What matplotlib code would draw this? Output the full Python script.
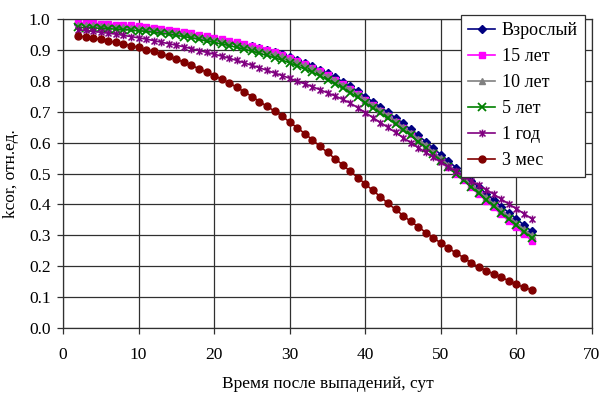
import matplotlib
matplotlib.use("Agg")
import matplotlib.pyplot as plt
from matplotlib.path import Path

days = list(range(2, 63))

adult = [0.984, 0.983, 0.982, 0.981, 0.980, 0.978, 0.977, 0.975, 0.973, 0.971,
         0.968, 0.965, 0.962, 0.958, 0.954, 0.950, 0.945, 0.940, 0.935, 0.931,
         0.927, 0.922, 0.917, 0.912, 0.906, 0.900, 0.893, 0.886, 0.878, 0.868,
         0.858, 0.848, 0.836, 0.824, 0.811, 0.797, 0.782, 0.766, 0.749, 0.732,
         0.715, 0.698, 0.680, 0.662, 0.643, 0.623, 0.603, 0.582, 0.561, 0.540,
         0.519, 0.498, 0.477, 0.456, 0.435, 0.414, 0.393, 0.373, 0.353, 0.333,
         0.313]

y15 = [0.988, 0.987, 0.986, 0.985, 0.984, 0.982, 0.981, 0.979, 0.977, 0.975,
       0.972, 0.969, 0.966, 0.962, 0.958, 0.954, 0.949, 0.944, 0.939, 0.934,
       0.930, 0.924, 0.919, 0.913, 0.906, 0.900, 0.892, 0.884, 0.875, 0.865,
       0.854, 0.843, 0.831, 0.818, 0.804, 0.790, 0.774, 0.757, 0.739, 0.721,
       0.703, 0.686, 0.667, 0.648, 0.628, 0.608, 0.587, 0.565, 0.543, 0.521,
       0.500, 0.478, 0.456, 0.434, 0.412, 0.390, 0.368, 0.347, 0.326, 0.305,
       0.283]

y10 = [0.981, 0.980, 0.979, 0.978, 0.977, 0.975, 0.974, 0.972, 0.970, 0.968,
       0.965, 0.962, 0.959, 0.955, 0.951, 0.947, 0.942, 0.937, 0.932, 0.928,
       0.923, 0.918, 0.912, 0.907, 0.900, 0.894, 0.886, 0.879, 0.870, 0.860,
       0.850, 0.840, 0.828, 0.816, 0.802, 0.788, 0.772, 0.756, 0.739, 0.722,
       0.705, 0.688, 0.669, 0.651, 0.632, 0.612, 0.592, 0.570, 0.549, 0.528,
       0.507, 0.486, 0.465, 0.444, 0.423, 0.402, 0.381, 0.361, 0.340, 0.320,
       0.300]

y5 = [0.973, 0.972, 0.971, 0.970, 0.969, 0.967, 0.966, 0.964, 0.962, 0.960,
      0.957, 0.954, 0.951, 0.947, 0.943, 0.939, 0.934, 0.929, 0.924, 0.919,
      0.914, 0.908, 0.902, 0.896, 0.889, 0.882, 0.874, 0.867, 0.858, 0.848,
      0.838, 0.828, 0.816, 0.804, 0.791, 0.777, 0.762, 0.746, 0.729, 0.712,
      0.695, 0.678, 0.660, 0.642, 0.623, 0.603, 0.583, 0.562, 0.541, 0.520,
      0.499, 0.478, 0.457, 0.436, 0.415, 0.394, 0.373, 0.352, 0.332, 0.312,
      0.292]

y1 = [0.965, 0.963, 0.960, 0.957, 0.954, 0.951, 0.947, 0.943, 0.939, 0.935,
      0.930, 0.925, 0.920, 0.915, 0.910, 0.904, 0.898, 0.892, 0.886, 0.880,
      0.873, 0.866, 0.858, 0.850, 0.842, 0.834, 0.825, 0.817, 0.808, 0.799,
      0.790, 0.781, 0.771, 0.761, 0.751, 0.740, 0.728, 0.713, 0.697, 0.681,
      0.665, 0.649, 0.633, 0.616, 0.600, 0.584, 0.568, 0.553, 0.537, 0.522,
      0.507, 0.492, 0.477, 0.462, 0.448, 0.433, 0.417, 0.401, 0.386, 0.370,
      0.354]

m3 = [0.946, 0.941, 0.937, 0.934, 0.929, 0.924, 0.919, 0.914, 0.908, 0.901,
      0.895, 0.887, 0.879, 0.870, 0.860, 0.850, 0.839, 0.828, 0.817, 0.805,
      0.793, 0.779, 0.764, 0.749, 0.733, 0.717, 0.702, 0.686, 0.666, 0.648,
      0.629, 0.609, 0.588, 0.568, 0.548, 0.528, 0.507, 0.487, 0.466, 0.445,
      0.425, 0.403, 0.384, 0.364, 0.345, 0.328, 0.309, 0.292, 0.275, 0.258,
      0.243, 0.228, 0.211, 0.197, 0.186, 0.175, 0.164, 0.153, 0.141, 0.132,
      0.123]

labels = ["Взрослый", "15 лет", "10 лет", "5 лет", "1 год", "3 мес"]
x_ticks = [0, 10, 20, 30, 40, 50, 60, 70]
y_ticks = [0.0, 0.1, 0.2, 0.3, 0.4, 0.5, 0.6, 0.7, 0.8, 0.9, 1.0]

plt.rcParams['font.family'] = ['Liberation Serif', 'DejaVu Serif']

asterisk = Path([(-1, -1), (1, 1), (-1, 1), (1, -1), (0, -1.3), (0, 1.3)],
                [Path.MOVETO, Path.LINETO, Path.MOVETO, Path.LINETO,
                 Path.MOVETO, Path.LINETO])

styles = [
    dict(color="#000080", marker="D", ms=4.4),
    dict(color="#FF00FF", marker="s", ms=4.7),
    dict(color="#808080", marker="^", ms=5.0),
    dict(color="#008000", marker="x", ms=5.2, mew=1.3),
    dict(color="#800080", marker=asterisk, ms=5.6, mew=1.1),
    dict(color="#800000", marker="o", ms=5.0),
]
series = [adult, y15, y10, y5, y1, m3]

fig = plt.figure(figsize=(6.01, 3.94), dpi=100)
ax = fig.add_axes([63/601, 1 - 328/394, (592 - 63)/601, (328 - 19)/394])

for vals, lab, st in zip(series, labels, styles):
    ax.plot(days, vals, lw=1.2, label=lab, **st)

ax.set_xlim(0, 70)
ax.set_ylim(0, 1.0)
ax.set_xticks(x_ticks)
ax.set_yticks(y_ticks)
ax.set_yticklabels([f"{v:.1f}" for v in y_ticks])
ax.grid(True, color="#303030", lw=0.9)
ax.set_axisbelow(True)
for s in ax.spines.values():
    s.set_color("#303030")
    s.set_linewidth(0.9)
ax.tick_params(axis='both', direction='out', length=4, width=0.9,
               color="#303030", labelsize=12.5)
ax.tick_params(axis='x', pad=10)
ax.tick_params(axis='y', pad=5)

ax.set_xlabel("Время после выпадений, сут", fontsize=12.5, labelpad=9)
ax.set_ylabel("kcor, отн.ед.", fontsize=12.5, labelpad=7)

leg = ax.legend(loc="upper right", bbox_to_anchor=(585/601, 1 - 15/394),
                bbox_transform=fig.transFigure, borderaxespad=0,
                fontsize=13, frameon=True, fancybox=False, framealpha=1,
                edgecolor="#303030", handlelength=1.5, handletextpad=0.35,
                labelspacing=0.5, borderpad=0.4)
leg.get_frame().set_linewidth(0.9)

fig.savefig("out.png", dpi=100)
